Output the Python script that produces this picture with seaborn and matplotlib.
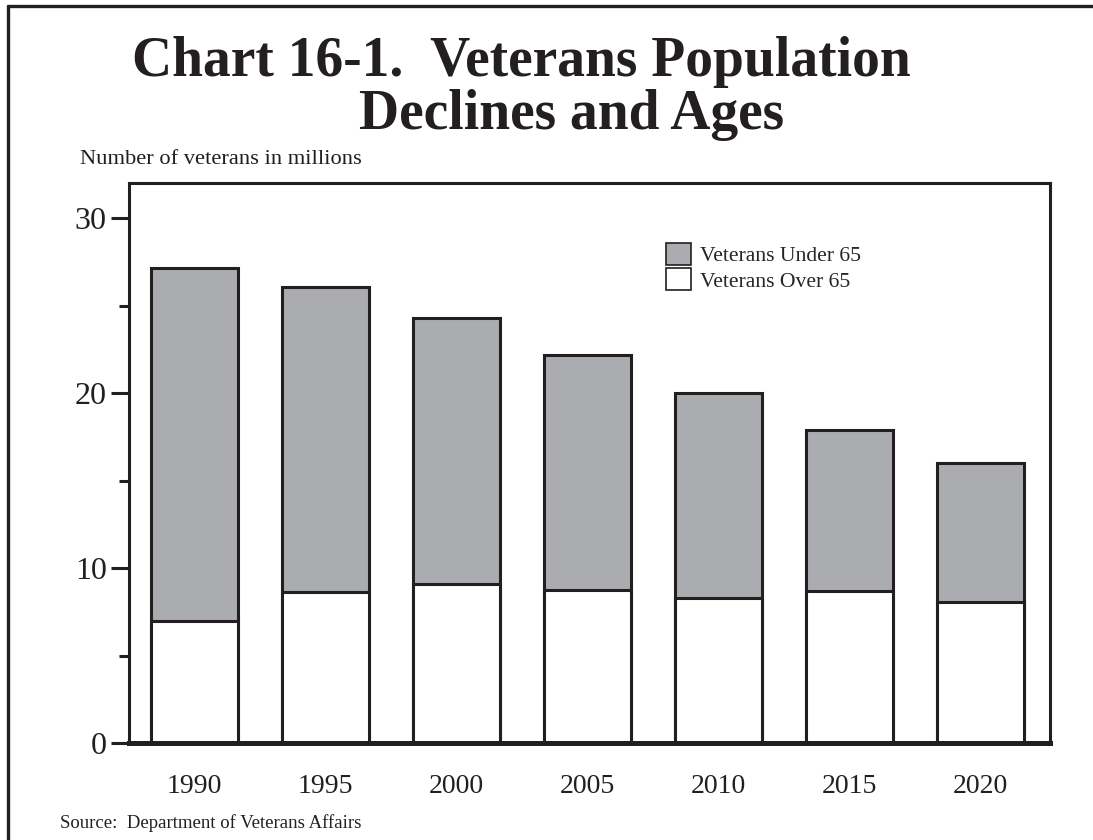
import matplotlib
matplotlib.use("Agg")
import matplotlib.pyplot as plt
from matplotlib.lines import Line2D
from matplotlib.patches import Patch
from matplotlib.ticker import MultipleLocator
import seaborn as sns
import pandas as pd

# Veteran population by year, in millions
years = ["1990", "1995", "2000", "2005", "2010", "2015", "2020"]
over_65 = [7.0, 8.65, 9.1, 8.75, 8.3, 8.7, 8.05]
under_65 = [20.15, 17.4, 15.2, 13.45, 11.7, 9.2, 7.95]

title_line1 = "Chart 16-1.  Veterans Population"
title_line2 = "Declines and Ages"
y_label = "Number of veterans in millions"
source = "Source:  Department of Veterans Affairs"
legend_labels = ["Veterans Under 65", "Veterans Over 65"]

GRAY = "#ABACAF"
INK = "#231F20"

sns.set_theme(style="white")
plt.rcParams["font.family"] = ["Liberation Serif", "DejaVu Serif"]

df = pd.DataFrame({
    "year": years,
    "over": over_65,
    "total": [o + u for o, u in zip(over_65, under_65)],
})

fig = plt.figure(figsize=(10.93, 8.4), dpi=100)
ax = fig.add_axes([0.118, 0.1149, 0.8426, 0.6672])

bar_kw = dict(edgecolor=INK, linewidth=2.2, width=0.66, saturation=1, ax=ax)
sns.barplot(data=df, x="year", y="total", color=GRAY, **bar_kw)
sns.barplot(data=df, x="year", y="over", color="white", **bar_kw)

ax.set_xlim(-0.5, 6.53)
ax.set_ylim(0, 32)
ax.set_xlabel("")
ax.set_ylabel("")

for side, sp in ax.spines.items():
    sp.set_visible(True)
    sp.set_color(INK)
    sp.set_linewidth(2.2)
ax.spines["bottom"].set_linewidth(3.6)

ax.yaxis.set_major_locator(MultipleLocator(10))
ax.yaxis.set_minor_locator(MultipleLocator(5))
ax.tick_params(axis="y", which="major", direction="out", length=13, width=2.2,
               color=INK, labelsize=23, labelcolor=INK, pad=3, left=True)
ax.tick_params(axis="y", which="minor", direction="out", length=7, width=2.2,
               color=INK, left=True)
ax.tick_params(axis="x", length=0, labelsize=20, labelcolor=INK, pad=22)

handles = [Patch(facecolor=GRAY, edgecolor=INK, linewidth=1.2),
           Patch(facecolor="white", edgecolor=INK, linewidth=1.2)]
fig.legend(handles, legend_labels, loc="upper left",
           bbox_to_anchor=(0.6093, 0.7107), frameon=False, fontsize=15.6,
           handlelength=1.15, handleheight=1.2, handletextpad=0.4,
           labelspacing=0.08, borderaxespad=0, borderpad=0)

fig.text(0.477, 0.926, title_line1, ha="center", va="center",
         fontsize=40, fontweight="bold", color=INK)
fig.text(0.523, 0.863, title_line2, ha="center", va="center",
         fontsize=40, fontweight="bold", color=INK)
fig.text(0.073, 0.810, y_label, ha="left", va="center", fontsize=16.2, color=INK)
fig.text(0.055, 0.020, source, ha="left", va="center", fontsize=13.5, color=INK)

# Frame rules along the top and left edges of the page
fig.add_artist(Line2D([0.0075, 1.0], [0.9925, 0.9925], transform=fig.transFigure,
                      color=INK, linewidth=2.4))
fig.add_artist(Line2D([0.0075, 0.0075], [0.0, 0.9925], transform=fig.transFigure,
                      color=INK, linewidth=2.4))

fig.savefig("out.png", dpi=100, facecolor="white")
